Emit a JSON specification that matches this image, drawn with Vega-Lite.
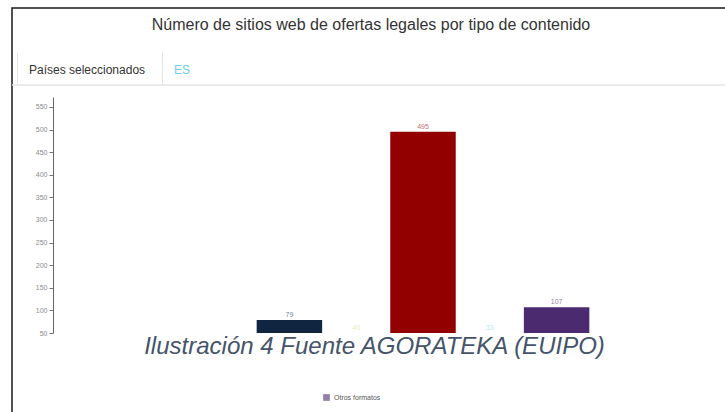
{
  "$schema": "https://vega.github.io/schema/vega-lite/v6.json",
  "width": 716,
  "height": 407,
  "autosize": {"type": "none"},
  "padding": {"left": 12, "top": 8, "right": -3, "bottom": -3},
  "background": "white",
  "config": {
    "view": {"stroke": "#1a1a1a", "strokeWidth": 1.5},
    "font": "Liberation Sans"
  },
  "title": {
    "text": "Número de sitios web de ofertas legales por tipo de contenido",
    "anchor": "middle",
    "frame": "group",
    "offset": -25,
    "dx": 1,
    "fontSize": 16,
    "fontWeight": "normal",
    "color": "#333333",
    "font": "Liberation Sans"
  },
  "resolve": {"scale": {"x": "independent", "y": "independent", "color": "independent"}},
  "layer": [
    {
      "data": {"values": [{"tab": "Países seleccionados"}, {"tab": "ES"}]},
      "encoding": {
        "y": {"field": "tab", "type": "nominal", "scale": {"type": "point", "range": [77, 77]}, "axis": null}
      },
      "layer": [
        {"mark": {"type": "rule", "color": "#e4e4e4", "strokeWidth": 1}},
        {
          "mark": {"type": "text", "align": "left", "baseline": "middle", "fontSize": 12, "dx": 12, "dy": -15},
          "encoding": {
            "x": {
              "field": "tab", "type": "nominal", "sort": null, "bandPosition": 0,
              "scale": {"type": "band", "range": [5, 585], "paddingInner": 0, "paddingOuter": 1, "align": 0},
              "axis": {"orient": "top", "offset": -77, "title": null, "labels": false, "domain": false,
                       "bandPosition": 0, "tickColor": "#e4e4e4", "tickSize": 33, "grid": false}
            },
            "text": {"field": "tab"},
            "color": {"condition": {"test": "datum.tab === 'ES'", "value": "#6ccdee"}, "value": "#333333"}
          }
        }
      ]
    },
    {
      "data": {"values": [
        {"tipo": "Libros electrónicos", "sitios": 79},
        {"tipo": "Videojuegos", "sitios": 40},
        {"tipo": "Música", "sitios": 495},
        {"tipo": "Deportes", "sitios": 33},
        {"tipo": "Otros formatos", "sitios": 107}
      ]},
      "encoding": {
        "x": {
          "field": "tipo", "type": "nominal", "sort": null,
          "scale": {"type": "band", "range": [244, 578], "paddingInner": 0.02, "paddingOuter": 0.01},
          "axis": {"orient": "bottom", "offset": -69, "domain": false, "ticks": false, "labels": false, "grid": false,
                   "title": "Ilustración 4 Fuente AGORATEKA (EUIPO)", "titleX": 362, "titleY": 0,
                   "titleAlign": "center", "titleBaseline": "middle", "titleFontSize": 24,
                   "titleFontStyle": "italic", "titleFontWeight": "normal", "titleColor": "#44546A",
                   "titleFont": "Liberation Sans"}
        },
        "y": {
          "field": "sitios", "type": "quantitative",
          "scale": {"domain": [50, 572], "range": [325, 89], "clamp": true, "zero": false, "nice": false},
          "axis": {"orient": "left", "offset": -41, "values": [50, 100, 150, 200, 250, 300, 350, 400, 450, 500, 550],
                   "title": null, "grid": false, "labelFontSize": 7, "labelColor": "#8a8a8a", "tickSize": 4,
                   "tickColor": "#777777", "domainColor": "#666666", "labelPadding": 2}
        },
        "color": {
          "field": "tipo", "type": "nominal",
          "scale": {"domain": ["Libros electrónicos", "Videojuegos", "Música", "Deportes", "Otros formatos"],
                    "range": ["#0f2540", "#d9e28c", "#930000", "#8fd8ea", "#4b2a70"]},
          "legend": {"values": ["Otros formatos"], "orient": "none", "legendX": 311, "legendY": 386,
                     "title": null, "symbolType": "square", "symbolSize": 45, "labelFontSize": 7,
                     "labelColor": "#555555", "padding": 0, "symbolStrokeWidth": 0, "labelOffset": 4}
        }
      },
      "layer": [
        {"mark": {"type": "bar"}},
        {"mark": {"type": "text", "baseline": "bottom", "dy": -2, "fontSize": 7, "opacity": 0.6},
         "encoding": {"text": {"field": "sitios", "type": "quantitative"}}}
      ]
    }
  ]
}
